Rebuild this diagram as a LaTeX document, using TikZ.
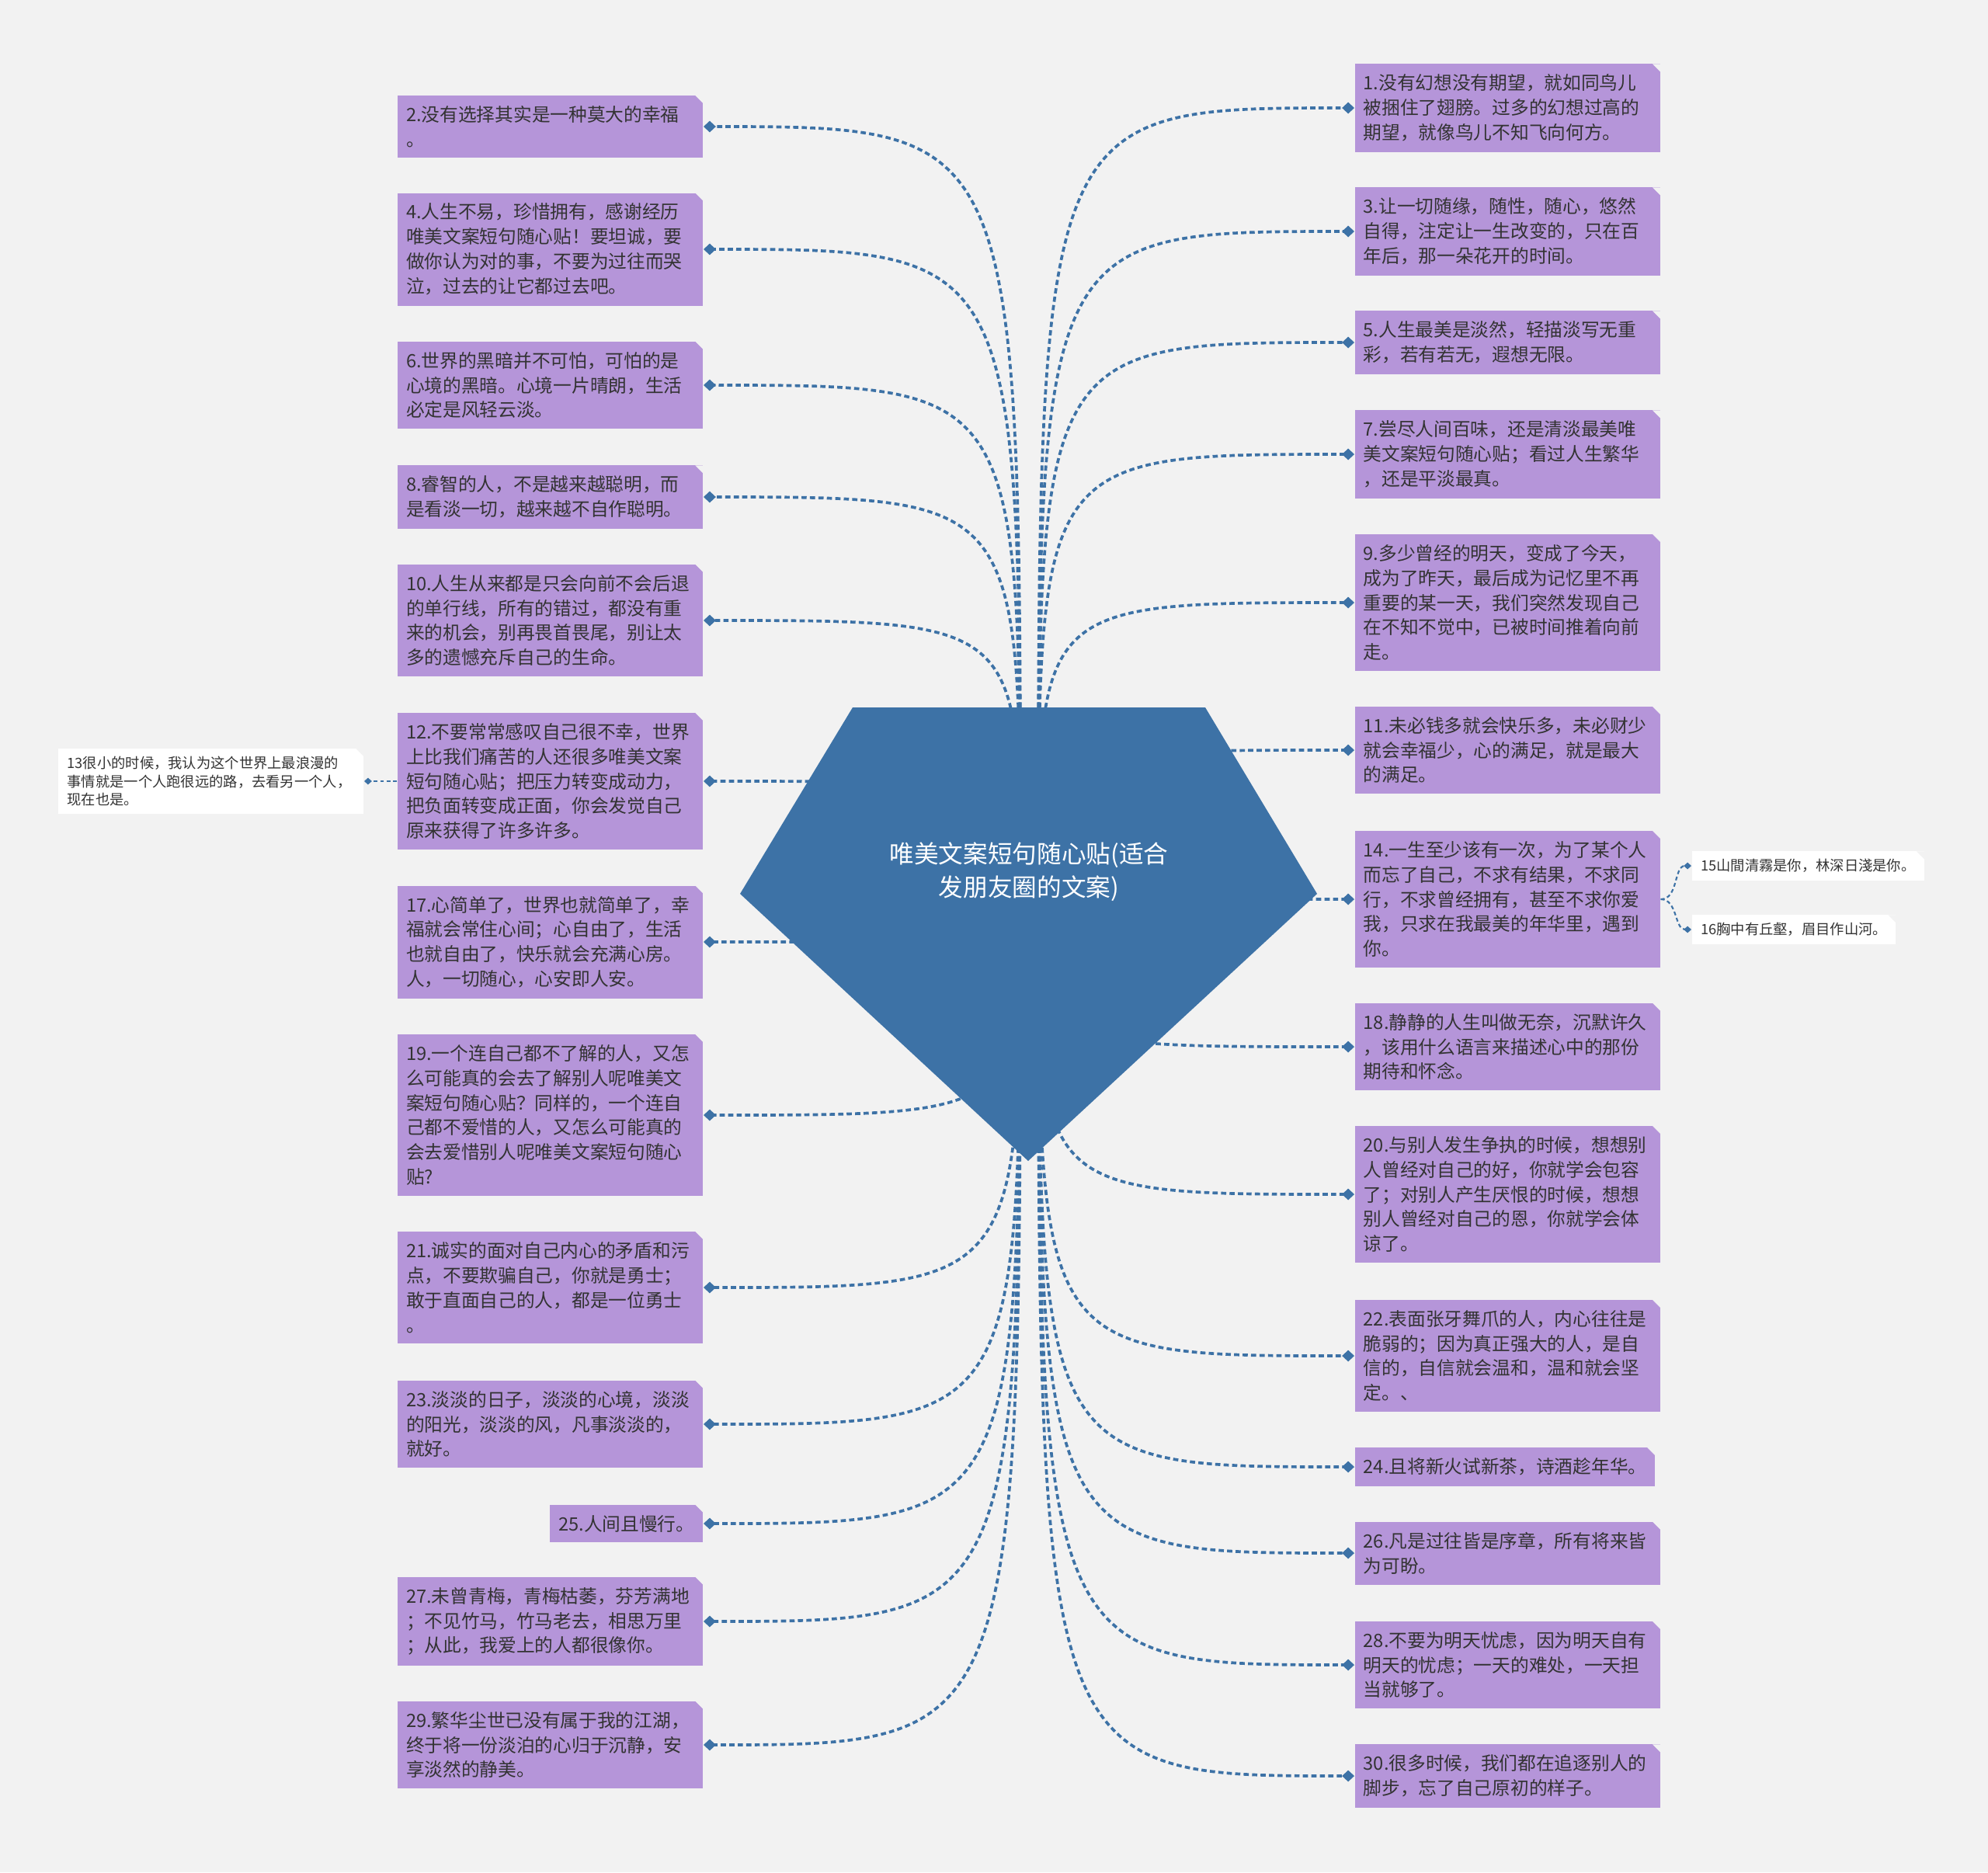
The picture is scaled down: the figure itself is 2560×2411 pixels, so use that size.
\documentclass[tikz,border=0pt]{standalone}
\usepackage{fontspec}
\setmainfont{Noto Sans CJK SC}
\usepackage{tikz}
\usetikzlibrary{arrows.meta}
\definecolor{paper}{RGB}{242,242,242}
\definecolor{gem}{RGB}{61,114,166}
\definecolor{lilac}{RGB}{181,149,217}
\definecolor{ink}{RGB}{51,51,51}

\begin{document}
\begin{tikzpicture}[x=0.01cm,y=-0.01cm,
  cut/.style={path picture={\fill[paper] (path picture bounding box.north east)
      -- ++(-0.1cm,0) -- ++(0.1cm,-0.1cm) -- cycle;}},
  leaf/.style={cut,fill=lilac,text=ink,align=left,inner xsep=0.11cm,inner ysep=0.135cm,
    font=\fontsize{6.74}{9.05}\selectfont},
  wide/.style={leaf,text width=3.71cm},
  tip/.style={cut,fill=white,text=ink,align=left,inner xsep=0.115cm,inner ysep=0.1cm,
    font=\fontsize{5.2}{6.74}\selectfont},
  link/.style={gem,line width=1.05pt,dash pattern=on 1.9pt off 1.2pt,
    arrows={-Diamond[length=4.5pt,width=4.2pt]}},
  sublink/.style={gem,line width=0.6pt,dash pattern=on 1.4pt off 1pt,
    arrows={-Diamond[length=2.8pt,width=2.5pt]}}]
\fill[paper] (0,0) rectangle (2560,2411);
\useasboundingbox (0,0) rectangle (2560,2411);
\coordinate (hubL) at (1314,1151);
\coordinate (hubR) at (1337,1151);
% left column
\node[wide,anchor=east] (L2) at (906,163) {2.没有选择其实是一种莫大的幸福\\。};
\node[wide,anchor=east] (L4) at (906,321) {4.人生不易，珍惜拥有，感谢经历\\唯美文案短句随心贴！要坦诚，要\\做你认为对的事，不要为过往而哭\\泣，过去的让它都过去吧。};
\node[wide,anchor=east] (L6) at (906,496) {6.世界的黑暗并不可怕，可怕的是\\心境的黑暗。心境一片晴朗，生活\\必定是风轻云淡。};
\node[wide,anchor=east] (L8) at (906,640) {8.睿智的人，不是越来越聪明，而\\是看淡一切，越来越不自作聪明。};
\node[wide,anchor=east] (L10) at (906,799) {10.人生从来都是只会向前不会后退\\的单行线，所有的错过，都没有重\\来的机会，别再畏首畏尾，别让太\\多的遗憾充斥自己的生命。};
\node[wide,anchor=east] (L12) at (906,1006) {12.不要常常感叹自己很不幸，世界\\上比我们痛苦的人还很多唯美文案\\短句随心贴；把压力转变成动力，\\把负面转变成正面，你会发觉自己\\原来获得了许多许多。};
\node[wide,anchor=east] (L17) at (906,1213) {17.心简单了，世界也就简单了，幸\\福就会常住心间；心自由了，生活\\也就自由了，快乐就会充满心房。\\人，一切随心，心安即人安。};
\node[wide,anchor=east] (L19) at (906,1436) {19.一个连自己都不了解的人，又怎\\么可能真的会去了解别人呢唯美文\\案短句随心贴？同样的，一个连自\\己都不爱惜的人，又怎么可能真的\\会去爱惜别人呢唯美文案短句随心\\贴?};
\node[wide,anchor=east] (L21) at (906,1658) {21.诚实的面对自己内心的矛盾和污\\点，不要欺骗自己，你就是勇士；\\敢于直面自己的人，都是一位勇士\\。};
\node[wide,anchor=east] (L23) at (906,1834) {23.淡淡的日子，淡淡的心境，淡淡\\的阳光，淡淡的风，凡事淡淡的，\\就好。};
\node[leaf,anchor=east] (L25) at (906,1962) {25.人间且慢行。};
\node[wide,anchor=east] (L27) at (906,2088) {27.未曾青梅，青梅枯萎，芬芳满地\\；不见竹马，竹马老去，相思万里\\；从此，我爱上的人都很像你。};
\node[wide,anchor=east] (L29) at (906,2247) {29.繁华尘世已没有属于我的江湖，\\终于将一份淡泊的心归于沉静，安\\享淡然的静美。};
% right column
\node[wide,anchor=west] (R1) at (1744,139) {1.没有幻想没有期望，就如同鸟儿\\被捆住了翅膀。过多的幻想过高的\\期望，就像鸟儿不知飞向何方。};
\node[wide,anchor=west] (R3) at (1744,298) {3.让一切随缘，随性，随心，悠然\\自得，注定让一生改变的，只在百\\年后，那一朵花开的时间。};
\node[wide,anchor=west] (R5) at (1744,441) {5.人生最美是淡然，轻描淡写无重\\彩，若有若无，遐想无限。};
\node[wide,anchor=west] (R7) at (1744,585) {7.尝尽人间百味，还是清淡最美唯\\美文案短句随心贴；看过人生繁华\\，还是平淡最真。};
\node[wide,anchor=west] (R9) at (1744,776) {9.多少曾经的明天，变成了今天，\\成为了昨天，最后成为记忆里不再\\重要的某一天，我们突然发现自己\\在不知不觉中，已被时间推着向前\\走。};
\node[wide,anchor=west] (R11) at (1744,966) {11.未必钱多就会快乐多，未必财少\\就会幸福少，心的满足，就是最大\\的满足。};
\node[wide,anchor=west] (R14) at (1744,1158) {14.一生至少该有一次，为了某个人\\而忘了自己，不求有结果，不求同\\行，不求曾经拥有，甚至不求你爱\\我，只求在我最美的年华里，遇到\\你。};
\node[wide,anchor=west] (R18) at (1744,1348) {18.静静的人生叫做无奈，沉默许久\\，该用什么语言来描述心中的那份\\期待和怀念。};
\node[wide,anchor=west] (R20) at (1744,1538) {20.与别人发生争执的时候，想想别\\人曾经对自己的好，你就学会包容\\了；对别人产生厌恨的时候，想想\\别人曾经对自己的恩，你就学会体\\谅了。};
\node[wide,anchor=west] (R22) at (1744,1746) {22.表面张牙舞爪的人，内心往往是\\脆弱的；因为真正强大的人，是自\\信的，自信就会温和，温和就会坚\\定。、};
\node[leaf,anchor=west] (R24) at (1744,1889) {24.且将新火试新茶，诗酒趁年华。};
\node[wide,anchor=west] (R26) at (1744,2000) {26.凡是过往皆是序章，所有将来皆\\为可盼。};
\node[wide,anchor=west] (R28) at (1744,2144) {28.不要为明天忧虑，因为明天自有\\明天的忧虑；一天的难处，一天担\\当就够了。};
\node[wide,anchor=west] (R30) at (1744,2287) {30.很多时候，我们都在追逐别人的\\脚步，忘了自己原初的样子。};
% side notes
\node[tip,text width=3.70cm,anchor=east] (S13) at (469,1006) {13很小的时候，我认为这个世界上最浪漫的\\事情就是一个人跑很远的路，去看另一个人，\\现在也是。};
\node[tip,anchor=west] (S15) at (2178,1115) {15山間清霧是你，林深日淺是你。};
\node[tip,anchor=west] (S16) at (2178,1197) {16胸中有丘壑，眉目作山河。};
\draw[sublink] (L12.west) -- (S13.east);
\draw[sublink] (R14.east) to[out=0,in=180] (S15.west);
\draw[sublink] (R14.east) to[out=0,in=180] (S16.west);
% links, left
\draw[link] (hubL) .. controls (hubL |- L2.east) .. (L2.east);
\draw[link] (hubL) .. controls (hubL |- L4.east) .. (L4.east);
\draw[link] (hubL) .. controls (hubL |- L6.east) .. (L6.east);
\draw[link] (hubL) .. controls (hubL |- L8.east) .. (L8.east);
\draw[link] (hubL) .. controls (hubL |- L10.east) .. (L10.east);
\draw[link] (hubL) .. controls (hubL |- L12.east) .. (L12.east);
\draw[link] (hubL) .. controls (hubL |- L17.east) .. (L17.east);
\draw[link] (hubL) .. controls (hubL |- L19.east) .. (L19.east);
\draw[link] (hubL) .. controls (hubL |- L21.east) .. (L21.east);
\draw[link] (hubL) .. controls (hubL |- L23.east) .. (L23.east);
\draw[link] (hubL) .. controls (hubL |- L25.east) .. (L25.east);
\draw[link] (hubL) .. controls (hubL |- L27.east) .. (L27.east);
\draw[link] (hubL) .. controls (hubL |- L29.east) .. (L29.east);
% links, right
\draw[link] (hubR) .. controls (hubR |- R1.west) .. (R1.west);
\draw[link] (hubR) .. controls (hubR |- R3.west) .. (R3.west);
\draw[link] (hubR) .. controls (hubR |- R5.west) .. (R5.west);
\draw[link] (hubR) .. controls (hubR |- R7.west) .. (R7.west);
\draw[link] (hubR) .. controls (hubR |- R9.west) .. (R9.west);
\draw[link] (hubR) .. controls (hubR |- R11.west) .. (R11.west);
\draw[link] (hubR) .. controls (hubR |- R14.west) .. (R14.west);
\draw[link] (hubR) .. controls (hubR |- R18.west) .. (R18.west);
\draw[link] (hubR) .. controls (hubR |- R20.west) .. (R20.west);
\draw[link] (hubR) .. controls (hubR |- R22.west) .. (R22.west);
\draw[link] (hubR) .. controls (hubR |- R24.west) .. (R24.west);
\draw[link] (hubR) .. controls (hubR |- R26.west) .. (R26.west);
\draw[link] (hubR) .. controls (hubR |- R28.west) .. (R28.west);
\draw[link] (hubR) .. controls (hubR |- R30.west) .. (R30.west);
% centre gem
\fill[gem] (1098,911) -- (1552,911) -- (1696,1151) -- (1324,1495) -- (953,1151) -- cycle;
\node[text=white,align=center,font=\fontsize{9}{12.2}\selectfont] (title) at (1325,1123)
  {唯美文案短句随心贴(适合\\发朋友圈的文案)};
\end{tikzpicture}
\end{document}
